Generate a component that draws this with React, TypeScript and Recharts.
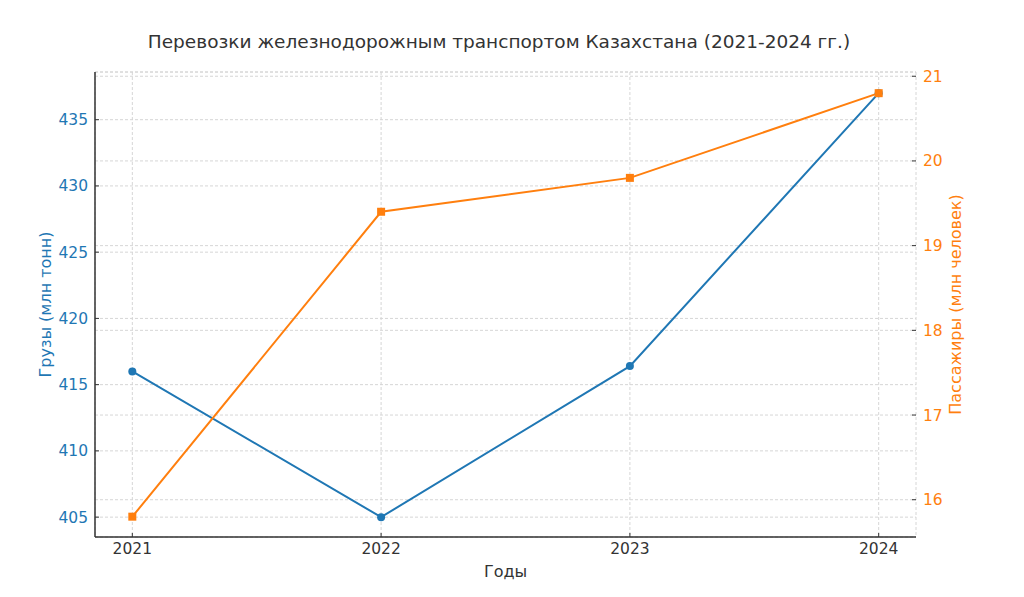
import React from 'react';
import { LineChart, Line, XAxis, YAxis, CartesianGrid } from 'recharts';

const years = [2021, 2022, 2023, 2024];
const cargo = [416.0, 405.0, 416.4, 437.0];
const passengers = [15.8, 19.4, 19.8, 20.8];
const cargoTicks = [405, 410, 415, 420, 425, 430, 435];
const passengerTicks = [16, 17, 18, 19, 20, 21];

const data = years.map((y, i) => ({ year: y, cargo: cargo[i], passengers: passengers[i] }));

const BLUE = '#1f77b4';
const ORANGE = '#ff7f0e';
const FONT = 'DejaVu Sans, sans-serif';

const SquareDot = (props: any) => {
  const { cx, cy } = props;
  if (cx == null || cy == null) return null;
  return <rect x={cx - 4} y={cy - 4} width={8} height={8} fill={ORANGE} />;
};

export default function App() {
  return (
    <div style={{ position: 'absolute', left: 0, top: 0, width: 1024, height: 597, background: '#fff' }}>
      <div
        style={{
          position: 'absolute',
          top: 31,
          left: 0,
          width: 998,
          textAlign: 'center',
          fontFamily: FONT,
          fontSize: 18.5,
          color: '#333',
          whiteSpace: 'nowrap',
        }}
      >
        Перевозки железнодорожным транспортом Казахстана (2021-2024 гг.)
      </div>
      <LineChart
        width={1024}
        height={597}
        data={data}
        margin={{ top: 72, right: 0, left: 0, bottom: 0 }}
        style={{ fontFamily: FONT }}
      >
        <CartesianGrid yAxisId="left" stroke="#d6d6d6" strokeDasharray="3 2" vertical={true} horizontal={true} />
        <CartesianGrid yAxisId="right" stroke="#d6d6d6" strokeDasharray="3 2" vertical={false} horizontal={true} />
        <XAxis
          dataKey="year"
          type="number"
          domain={[2020.85, 2024.15]}
          ticks={years}
          height={60}
          axisLine={{ stroke: '#333', strokeWidth: 1.5 }}
          tickLine={{ stroke: '#333' }}
          tickSize={-4}
          tickMargin={10}
          tick={{ fill: '#333', fontSize: 15.5 }}
          label={{ value: 'Годы', position: 'center', dy: 4, fill: '#333', fontSize: 16 }}
          allowDecimals={false}
        />
        <YAxis
          yAxisId="left"
          orientation="left"
          width={95}
          domain={[403.5, 438.6]}
          ticks={cargoTicks}
          axisLine={{ stroke: '#333', strokeWidth: 1.5 }}
          tickLine={{ stroke: '#333' }}
          tickSize={-4}
          tickMargin={11}
          tick={{ fill: BLUE, fontSize: 15.5 }}
          label={{ value: 'Грузы (млн тонн)', angle: -90, position: 'center', dx: -2, fill: BLUE, fontSize: 16 }}
        />
        <YAxis
          yAxisId="right"
          orientation="right"
          width={108}
          domain={[15.56, 21.05]}
          ticks={passengerTicks}
          axisLine={false}
          tickLine={{ stroke: '#333' }}
          tickSize={-4}
          tickMargin={11}
          tick={{ fill: ORANGE, fontSize: 15.5 }}
          label={{ value: 'Пассажиры (млн человек)', angle: -90, position: 'center', dx: -15, fill: ORANGE, fontSize: 16 }}
        />
        <Line
          yAxisId="left"
          type="linear"
          dataKey="cargo"
          stroke={BLUE}
          strokeWidth={2}
          dot={{ r: 4, fill: BLUE, stroke: BLUE, strokeWidth: 0 }}
          activeDot={false}
          isAnimationActive={false}
        />
        <Line
          yAxisId="right"
          type="linear"
          dataKey="passengers"
          stroke={ORANGE}
          strokeWidth={2}
          dot={<SquareDot />}
          activeDot={false}
          isAnimationActive={false}
        />
      </LineChart>
    </div>
  );
}
